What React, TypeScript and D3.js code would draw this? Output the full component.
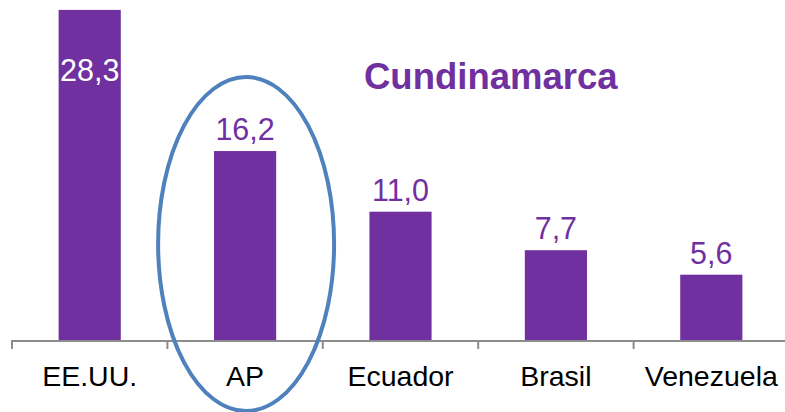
import React from "react";
import * as d3 from "d3";

const width = 785;
const height = 412;
const margin = { left: 12, right: -4, top: 0, bottom: 72 };

const countries = ["EE.UU.", "AP", "Ecuador", "Brasil", "Venezuela"];
const values = [28.3, 16.2, 11.0, 7.7, 5.6];
const valueLabels = ["28,3", "16,2", "11,0", "7,7", "5,6"];
const title = "Cundinamarca";
const highlighted = "AP";

const purple = "#7030A0";
const font = "Arial, 'Liberation Sans', sans-serif";

export default function App() {
  const baseline = height - margin.bottom;

  const x = d3
    .scaleBand()
    .domain(countries)
    .range([margin.left, width - margin.right])
    .paddingInner(0.6)
    .paddingOuter(0.3);

  const y = d3.scaleLinear().domain([0, 29.15]).range([baseline, margin.top]);

  // band boundaries for the tick marks
  const step = x.step();
  const bounds = d3.range(countries.length + 1).map(i => margin.left + i * step);

  const axisRef = React.useRef<SVGGElement>(null);

  React.useEffect(() => {
    const g = d3.select(axisRef.current);
    g.selectAll("*").remove();
    g.append("line")
      .attr("x1", margin.left)
      .attr("x2", width)
      .attr("y1", baseline + 1)
      .attr("y2", baseline + 1)
      .attr("stroke", "#8c8c8c")
      .attr("stroke-width", 2);
    g.selectAll("line.tick")
      .data(bounds)
      .enter()
      .append("line")
      .attr("class", "tick")
      .attr("x1", d => d)
      .attr("x2", d => d)
      .attr("y1", baseline)
      .attr("y2", baseline + 9)
      .attr("stroke", "#8c8c8c")
      .attr("stroke-width", 2);
  }, []);

  const hx = (x(highlighted) ?? 0) + x.bandwidth() / 2 + 1;

  return (
    <svg
      width={width}
      height={height}
      style={{ position: "absolute", left: 0, top: 0, background: "#fff" }}
      fontFamily={font}
    >
      {countries.map((c, i) => {
        const bx = x(c) ?? 0;
        const top = y(values[i]);
        const inside = top < 40;
        return (
          <g key={c}>
            <rect
              x={bx}
              y={top}
              width={x.bandwidth()}
              height={baseline - top}
              fill={purple}
            />
            <text
              x={bx + x.bandwidth() / 2}
              y={inside ? top + 71 : top - 11}
              textAnchor="middle"
              fontSize={30.5}
              fill={inside ? "#fff" : purple}
            >
              {valueLabels[i]}
            </text>
            <text
              x={bx + x.bandwidth() / 2}
              y={baseline + 46}
              textAnchor="middle"
              fontSize={28.5}
              fill="#000"
            >
              {c}
            </text>
          </g>
        );
      })}
      <g ref={axisRef} />
      <text x={364} y={89} fontSize={36.5} fontWeight="bold" fill={purple}>
        {title}
      </text>
      <ellipse
        cx={hx}
        cy={244}
        rx={88}
        ry={167}
        fill="none"
        stroke="#4F81BD"
        strokeWidth={4}
      />
    </svg>
  );
}
